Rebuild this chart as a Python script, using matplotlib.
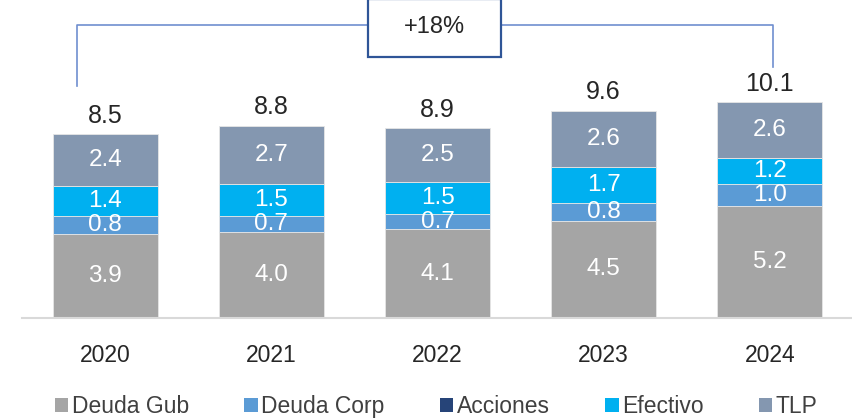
import numpy as np
import matplotlib.pyplot as plt
from matplotlib.patches import Patch, Rectangle

plt.rcParams['font.family'] = ['Liberation Sans', 'DejaVu Sans']

years = ['2020', '2021', '2022', '2023', '2024']
deuda_gub = [3.9, 4.0, 4.1, 4.5, 5.2]
deuda_corp = [0.8, 0.7, 0.7, 0.8, 1.0]
acciones = [0.0, 0.0, 0.0, 0.0, 0.0]
efectivo = [1.4, 1.5, 1.5, 1.7, 1.2]
tlp = [2.4, 2.7, 2.5, 2.6, 2.6]
totals = [8.5, 8.8, 8.9, 9.6, 10.1]
growth_label = '+18%'

series = [('Deuda Gub', deuda_gub, '#A5A5A5'),
          ('Deuda Corp', deuda_corp, '#5B9BD5'),
          ('Acciones', acciones, '#264478'),
          ('Efectivo', efectivo, '#00B0F0'),
          ('TLP', tlp, '#8497B0')]

fig = plt.figure(figsize=(8.52, 4.2), dpi=100)
ax = fig.add_axes([0.026, 0.243, 0.975, 0.757])

x = np.arange(len(years))
bottom = np.zeros(len(years))
for name, vals, col in series:
    vals = np.array(vals)
    ax.bar(x, vals, 0.63, bottom=bottom, color=col, edgecolor='#E6E6E6', linewidth=0.6, label=name)
    for xi, b, v in zip(x, bottom, vals):
        if v > 0:
            ax.text(xi, b + v / 2, f'{v:.1f}', ha='center', va='center',
                    color='white', fontsize=17.5)
    bottom += vals

for xi, t, b in zip(x, totals, bottom):
    ax.text(xi, b + 0.85, f'{t:.1f}', ha='center', va='center', color='#262626', fontsize=18)

# growth bracket
ax.plot([-0.17, -0.17, 4.02, 4.02], [10.74, 13.56, 13.56, 11.6],
        color='#6F8FCF', linewidth=1.2, clip_on=False, zorder=1)
ax.add_patch(Rectangle((1.58, 12.08), 0.8, 2.7, facecolor='white', edgecolor='#2F5597',
                       linewidth=1.6, clip_on=False, zorder=2))
ax.text(1.98, 13.45, growth_label, ha='center', va='center', fontsize=17, color='#262626', zorder=3)

ax.set_xlim(-0.5, 4.5)
ax.set_ylim(0, 14.72)
ax.set_xticks(x)
ax.set_xticklabels(years, fontsize=16.5, color='#262626')
ax.tick_params(axis='x', length=0, pad=19)
ax.set_yticks([])
for s in ['top', 'right', 'left']:
    ax.spines[s].set_visible(False)
ax.spines['bottom'].set_color('#D9D9D9')
ax.spines['bottom'].set_linewidth(1.5)

handles = [Patch(facecolor=c, edgecolor='none') for _, _, c in series]
fig.legend(handles, [n for n, _, _ in series], loc='lower center', bbox_to_anchor=(0.512, -0.045),
           ncol=5, frameon=False, fontsize=16.5, handlelength=0.6, handleheight=0.6,
           handletextpad=0.15, columnspacing=2.4, labelcolor='#404040')

fig.savefig('out.png', dpi=100)
